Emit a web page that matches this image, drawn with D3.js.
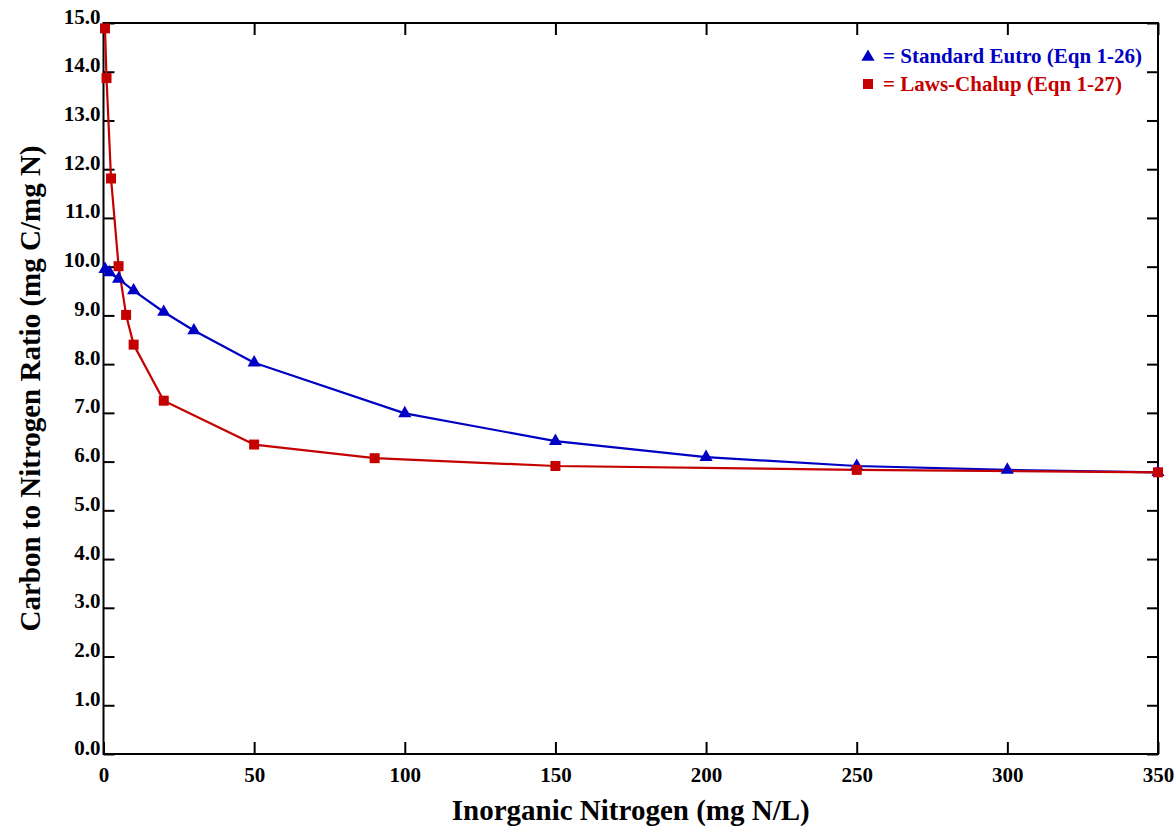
<!DOCTYPE html>
<html><head><meta charset="utf-8">
<script src="https://cdn.jsdelivr.net/npm/d3@7/dist/d3.min.js"></script>
<style>
html,body{margin:0;padding:0;background:#fff;}
svg{display:block;}
text{font-family:"Liberation Serif","Times New Roman",serif;font-weight:bold;}
</style></head>
<body>
<svg id="chart" width="1176" height="830"></svg>
<script>
// Data
const eutroX = [0.5, 2, 5, 10, 20, 30, 50, 100, 150, 200, 250, 300, 350];
const eutroY = [9.95, 9.88, 9.75, 9.51, 9.07, 8.69, 8.03, 6.99, 6.42, 6.09, 5.91, 5.83, 5.78];
const lawsX = [0.5, 1, 2.5, 5, 7.5, 10, 20, 50, 90, 150, 250, 350];
const lawsY = [14.89, 13.87, 11.81, 10.01, 9.01, 8.40, 7.25, 6.35, 6.07, 5.91, 5.83, 5.78];
const xTicks = [0, 50, 100, 150, 200, 250, 300, 350];
const yTicks = [0,1,2,3,4,5,6,7,8,9,10,11,12,13,14,15];
const seriesNames = ["= Standard Eutro (Eqn 1-26)", "= Laws-Chalup (Eqn 1-27)"];
const xTitle = "Inorganic Nitrogen (mg N/L)";
const yTitle = "Carbon to Nitrogen Ratio (mg C/mg N)";

const blue = "#0000c4", red = "#c40000";
const svg = d3.select("#chart");
const L = 103.5, R = 1158, T = 23, B = 754;
const x = d3.scaleLinear().domain([0, 350]).range([L, R]);
const y = d3.scaleLinear().domain([0, 15]).range([B, T]);

// frame
svg.append("rect").attr("x", L).attr("y", T).attr("width", R - L).attr("height", B - T)
  .attr("fill", "none").attr("stroke", "#000").attr("stroke-width", 2);

// axes with inward ticks
const gx = svg.append("g").attr("transform", `translate(0,${B})`)
  .call(d3.axisBottom(x).tickValues(xTicks).tickSize(-12).tickPadding(13).tickFormat(d3.format("d")));
const gxt = svg.append("g").attr("transform", `translate(0,${T})`)
  .call(d3.axisTop(x).tickValues(xTicks).tickSize(-12).tickFormat(""));
const gy = svg.append("g").attr("transform", `translate(${L},0)`)
  .call(d3.axisLeft(y).tickValues(yTicks).tickSize(-11).tickPadding(3).tickFormat(d3.format(".1f")));
const gyr = svg.append("g").attr("transform", `translate(${R},0)`)
  .call(d3.axisRight(y).tickValues(yTicks).tickSize(-11).tickFormat(""));
[gx, gxt, gy, gyr].forEach(g => {
  g.select(".domain").remove();
  g.selectAll(".tick line").attr("stroke", "#000").attr("stroke-width", 2);
  g.selectAll("text").attr("fill", "#000").style("font-size", "21px")
    .style("font-family", '"Liberation Serif",serif').style("font-weight", "bold");
});
gx.selectAll("text").attr("dy", "0.71em");
gy.selectAll("text").attr("dy", "0em");

// lines
const line = d3.line().x(d => x(d[0])).y(d => y(d[1]));
const eutro = eutroX.map((v, i) => [v, eutroY[i]]);
const laws = lawsX.map((v, i) => [v, lawsY[i]]);

svg.append("path").datum(eutro).attr("d", line).attr("fill", "none").attr("stroke", blue).attr("stroke-width", 2.2).attr("stroke-linejoin", "round");
svg.append("path").datum(laws).attr("d", line).attr("fill", "none").attr("stroke", red).attr("stroke-width", 2.2).attr("stroke-linejoin", "round");

const tri = d3.symbol().type(d3.symbolTriangle).size(75);
const sq = d3.symbol().type(d3.symbolSquare).size(100);
svg.append("g").selectAll("path").data(eutro).join("path")
  .attr("d", tri).attr("transform", d => `translate(${x(d[0])},${y(d[1])})`).attr("fill", blue);
svg.append("g").selectAll("path").data(laws).join("path")
  .attr("d", sq).attr("transform", d => `translate(${x(d[0])},${y(d[1])})`).attr("fill", red);

// legend
const leg = svg.append("g");
leg.append("path").attr("d", tri).attr("transform", "translate(868,57)").attr("fill", blue);
leg.append("path").attr("d", sq).attr("transform", "translate(868,84)").attr("fill", red);
leg.append("text").attr("x", 883).attr("y", 63).attr("fill", blue).style("font-size", "21px").text(seriesNames[0]);
leg.append("text").attr("x", 883).attr("y", 91).attr("fill", red).style("font-size", "21px").text(seriesNames[1]);

// titles
svg.append("text").attr("x", (L + R) / 2).attr("y", 820).attr("text-anchor", "middle")
  .style("font-size", "29px").attr("fill", "#000").text(xTitle);
svg.append("text").attr("transform", `translate(40,${(T + B) / 2}) rotate(-90)`).attr("text-anchor", "middle")
  .style("font-size", "29px").attr("fill", "#000").text(yTitle);
</script>
</body></html>
